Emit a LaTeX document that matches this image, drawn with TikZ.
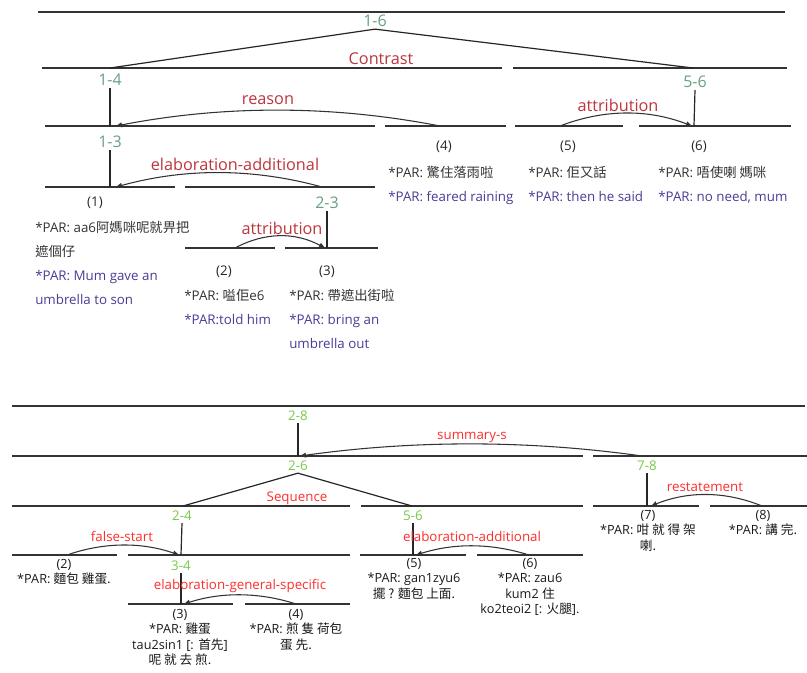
\documentclass[tikz,border=0pt]{standalone}
\usepackage{fontspec}
\setmainfont{Open Sans}
\newfontfamily\cjkfont{Noto Sans CJK TC}
\usetikzlibrary{arrows.meta}

\definecolor{topgreen}{RGB}{104,160,128}
\definecolor{topred}{RGB}{190,52,62}
\definecolor{parblue}{RGB}{72,60,150}
\definecolor{lowgreen}{RGB}{120,200,70}
\definecolor{lowred}{RGB}{255,45,45}
\newcommand{\zhtxt}[1]{{\cjkfont #1}}

\begin{document}
\begin{tikzpicture}[
    x=0.75pt, y=-0.75pt,
    bar/.style={
        line width=0.9pt,
        draw=black!80,
    },
    stem/.style={
        line width=0.9pt,
        draw=black!85,
    },
    relarrow/.style={
        -{Triangle[length=4.5pt, width=3.6pt]},
        line width=0.8pt,
        draw=black!80,
    },
    spanlab/.style={
        font=\fontsize{12}{14}\selectfont,
        text=#1,
        inner sep=1.5pt,
    },
    rellab/.style={
        font=\fontsize{12.2}{14}\selectfont,
        text=#1,
        inner sep=1pt,
    },
    lowlab/.style={
        font=\fontsize{10}{12}\selectfont,
        text=#1,
        inner sep=1.5pt,
    },
    edunum/.style={
        font=\fontsize{10}{12}\selectfont,
        text=black!85,
        inner sep=0pt,
    },
    edutop/.style={
        font=\fontsize{10}{18}\selectfont,
        text=black!80,
        align=left,
        anchor=north west,
        inner sep=0pt,
    },
    edulow/.style={
        font=\fontsize{9.5}{11.6}\selectfont,
        text=black!90,
        align=center,
        anchor=north,
        inner sep=0pt,
    },
]
\useasboundingbox (0,0) rectangle (807,673);

% === Top tree: bars ===
\draw[bar] (38,12) -- (785,12);
\draw[bar] (42,68) -- (502,68);
\draw[bar] (513,68) -- (787,68);
\draw[bar] (45,126) -- (375,126);
\draw[bar] (385,126) -- (506,126);
\draw[bar] (515,126) -- (623,126);
\draw[bar] (639,126) -- (791,126);
\draw[bar] (45,187) -- (175,187);
\draw[bar] (185,187) -- (375,187);
\draw[bar] (185,248) -- (275,248);
\draw[bar] (285,248) -- (378,248);

% === Top tree: span labels ===
\node[spanlab=topgreen] (s16) at (375,21) {1-6};
\node[spanlab=topgreen] (s14) at (110,80) {1-4};
\node[spanlab=topgreen] (s13) at (110,142) {1-3};
\node[spanlab=topgreen] (s23) at (327,203) {2-3};
\node[spanlab=topgreen] (s56) at (695,82) {5-6};

\coordinate (c14) at (110,68);
\coordinate (c56) at (693,68);
\coordinate (h14) at (110,126);
\coordinate (h13) at (110,187);
\coordinate (h23) at (327,248);
\coordinate (h56) at (694,126);

\draw[stem] (c14) -- (s16.south) -- (c56);
\draw[stem] (s14.south) -- (h14);
\draw[stem] (s13.south) -- (h13);
\draw[stem] (s23.south) -- (h23);
\draw[stem] (s56.south) -- (h56);

% === Top tree: relations ===
\node[rellab=topred] (r16) at (381,59) {Contrast};
\node[rellab=topred] (r14) at (268,100) {reason};
\node[rellab=topred] (r13) at (235,164) {elaboration-additional};
\node[rellab=topred] (r23) at (282,228) {attribution};
\node[rellab=topred] (r56) at (618,105) {attribution};

\coordinate (a4) at (440,126);
\coordinate (n14) at (116,126);
\coordinate (a23) at (322,187);
\coordinate (n13) at (116,187);
\coordinate (a2) at (235,248);
\coordinate (n3) at (325,248);
\coordinate (a5) at (560,126);
\coordinate (n6) at (692,126);

\draw[relarrow] (a4) .. controls (332,105) and (224,105) .. (n14);
\draw[relarrow] (a23) .. controls (253,168) and (185,168) .. (n13);
\draw[relarrow] (a2) .. controls (265,232) and (295,232) .. (n3);
\draw[relarrow] (a5) .. controls (604,109) and (648,109) .. (n6);

% === Top tree: utterances ===
\node[edunum] (u1) at (95,203) {(1)};
\node[edutop] (t1) at (35,221) {*PAR: aa6\zhtxt{阿媽咪呢就畀把}\\
    \zhtxt{遮個仔}\\
    \textcolor{parblue}{*PAR: Mum gave an}\\
    \textcolor{parblue}{umbrella to son}};
\node[edunum] (u2) at (224,272) {(2)};
\node[edutop] (t2) at (184,289) {*PAR: \zhtxt{嗌佢}e6\\
    \textcolor{parblue}{*PAR:told him}};
\node[edunum] (u3) at (327,272) {(3)};
\node[edutop] (t3) at (289,289) {*PAR: \zhtxt{帶遮出街啦}\\
    \textcolor{parblue}{*PAR: bring an}\\
    \textcolor{parblue}{umbrella out}};
\node[edunum] (u4) at (444,147) {(4)};
\node[edutop] (t4) at (388,166) {*PAR: \zhtxt{驚住落雨啦}\\
    \textcolor{parblue}{*PAR: feared raining}};
\node[edunum] (u5) at (568,147) {(5)};
\node[edutop] (t5) at (528,166) {*PAR: \zhtxt{佢又話}\\
    \textcolor{parblue}{*PAR: then he said}};
\node[edunum] (u6) at (699,147) {(6)};
\node[edutop] (t6) at (658,166) {*PAR: \zhtxt{唔使喇 媽咪}\\
    \textcolor{parblue}{*PAR: no need, mum}};

% === Bottom tree: bars ===
\draw[bar] (12,406) -- (805,406);
\draw[bar] (12,456) -- (583,456);
\draw[bar] (593,456) -- (807,456);
\draw[bar] (12,506) -- (350,506);
\draw[bar] (361,506) -- (583,506);
\draw[bar] (593,506) -- (699,506);
\draw[bar] (710,506) -- (807,506);
\draw[bar] (12,555) -- (117,555);
\draw[bar] (128,555) -- (350,555);
\draw[bar] (360,555) -- (466,555);
\draw[bar] (477,555) -- (583,555);
\draw[bar] (128,604) -- (233,604);
\draw[bar] (245,604) -- (350,604);

% === Bottom tree: span labels ===
\node[lowlab=lowgreen] (s28) at (298,416) {2-8};
\node[lowlab=lowgreen] (s26) at (298,466) {2-6};
\node[lowlab=lowgreen] (s78) at (647,466) {7-8};
\node[lowlab=lowgreen] (s24) at (182,516) {2-4};
\node[lowlab=lowgreen] (s56b) at (413,516) {5-6};
\node[lowlab=lowgreen] (s34) at (181,566) {3-4};

\coordinate (h28) at (298,456);
\coordinate (c24) at (183,506);
\coordinate (c56b) at (412,506);
\coordinate (h78) at (647,506);
\coordinate (h24) at (181,555);
\coordinate (h56b) at (413,555);
\coordinate (h34) at (181,604);

\draw[stem] (s28.south) -- (h28);
\draw[stem] (c24) -- (s26.south) -- (c56b);
\draw[stem] (s78.south) -- (h78);
\draw[stem] (s24.south) -- (h24);
\draw[stem] (s56b.south) -- (h56b);
\draw[stem] (s34.south) -- (h34);

% === Bottom tree: relations ===
\node[lowlab=lowred] (r28) at (472,437) {summary-s};
\node[lowlab=lowred] (r26) at (297,498) {Sequence};
\node[lowlab=lowred] (r78) at (705,487) {restatement};
\node[lowlab=lowred] (r24) at (122,536) {false-start};
\node[lowlab=lowred] (r34) at (240,586) {elaboration-general-specific};
\node[lowlab=lowred] (r56b) at (472,536) {elaboration-additional};

\coordinate (a78) at (642,456);
\coordinate (n26) at (300,456);
\coordinate (a8) at (762,506);
\coordinate (n7) at (651,506);
\coordinate (a2b) at (67,555);
\coordinate (n34) at (179,555);
\coordinate (a4b) at (296,604);
\coordinate (n3b) at (184,604);
\coordinate (a6b) at (529,555);
\coordinate (n5b) at (416,555);

\draw[relarrow] (a78) .. controls (528,440) and (414,440) .. (n26);
\draw[relarrow] (a8) .. controls (725,491) and (688,491) .. (n7);
\draw[relarrow] (a2b) .. controls (104,542) and (142,542) .. (n34);
\draw[relarrow] (a4b) .. controls (259,592) and (221,592) .. (n3b);
\draw[relarrow] (a6b) .. controls (491,543) and (454,543) .. (n5b);

% === Bottom tree: utterances ===
\node[edulow] (b2) at (64,559) {(2)\\*PAR: \zhtxt{麵包 雞蛋.}};
\node[edulow] (b3) at (180,609) {(3)\\*PAR: \zhtxt{雞蛋}\\tau2sin1 [: \zhtxt{首先}]\\\zhtxt{呢 就 去 煎.}};
\node[edulow] (b4) at (296,609) {(4)\\*PAR: \zhtxt{煎 隻 荷包}\\\zhtxt{蛋 先.}};
\node[edulow] (b5) at (414,558) {(5)\\*PAR: gan1zyu6\\\zhtxt{擺 ? 麵包 上面.}};
\node[edulow] (b6) at (530,558) {(6)\\*PAR: zau6\\kum2 \zhtxt{住}\\ko2teoi2 [: \zhtxt{火腿}].};
\node[edulow] (b7) at (648,510) {(7)\\*PAR: \zhtxt{咁 就 得 架}\\\zhtxt{喇.}};
\node[edulow] (b8) at (763,510) {(8)\\*PAR: \zhtxt{講 完.}};

\end{tikzpicture}
\end{document}
